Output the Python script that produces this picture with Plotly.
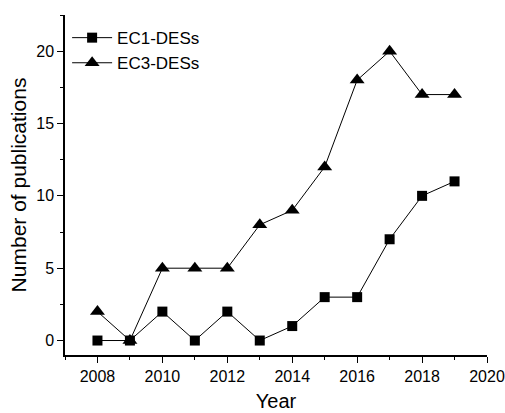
import plotly.graph_objects as go

years = [2008, 2009, 2010, 2011, 2012, 2013, 2014, 2015, 2016, 2017, 2018, 2019]
ec1_des = [0, 0, 2, 0, 2, 0, 1, 3, 3, 7, 10, 11]
ec3_des = [2, 0, 5, 5, 5, 8, 9, 12, 18, 20, 17, 17]

fig = go.Figure()
fig.add_trace(go.Scatter(
    x=years, y=ec1_des, name="EC1-DESs", mode="lines+markers",
    line=dict(color="black", width=1),
    marker=dict(symbol="square", size=10, color="black"),
))
fig.add_trace(go.Scatter(
    x=years, y=ec3_des, name="EC3-DESs", mode="lines+markers",
    line=dict(color="black", width=1),
    marker=dict(symbol="triangle-up", size=13, color="black"),
))

font_family = "Liberation Sans, Arial"
axis_font = dict(family=font_family, size=16, color="black")
fig.update_layout(
    width=505, height=413,
    margin=dict(l=65, r=18, t=15, b=58),
    paper_bgcolor="white", plot_bgcolor="white",
    font=dict(family=font_family, color="black"),
    showlegend=True,
    legend=dict(x=0.005, y=0.985, xanchor="left", yanchor="top",
                font=dict(size=17, family=font_family),
                bgcolor="rgba(0,0,0,0)", tracegroupgap=0, itemwidth=40),
    xaxis=dict(
        range=[2007, 2020], tickmode="linear", tick0=2008, dtick=2,
        automargin=False,
        showgrid=False, zeroline=False, showline=True, linecolor="black", linewidth=1.5,
        ticks="outside", ticklen=6, tickwidth=1.2, tickcolor="black",
        minor=dict(ticks="outside", ticklen=3, dtick=1, tick0=2007, tickcolor="black", showgrid=False),
        tickfont=axis_font,
        title=dict(text="Year", font=dict(size=20), standoff=10),
    ),
    yaxis=dict(
        range=[-1, 22.5], tickmode="linear", tick0=0, dtick=5,
        automargin=False,
        showgrid=False, zeroline=False, showline=True, linecolor="black", linewidth=1.5,
        ticks="outside", ticklen=6, tickwidth=1.2, tickcolor="black",
        minor=dict(ticks="outside", ticklen=3, dtick=2.5, tick0=0, tickcolor="black", showgrid=False),
        tickfont=axis_font,
        title=dict(text="Number of publications", font=dict(size=21), standoff=4),
    ),
)

fig.write_html("out.html")
